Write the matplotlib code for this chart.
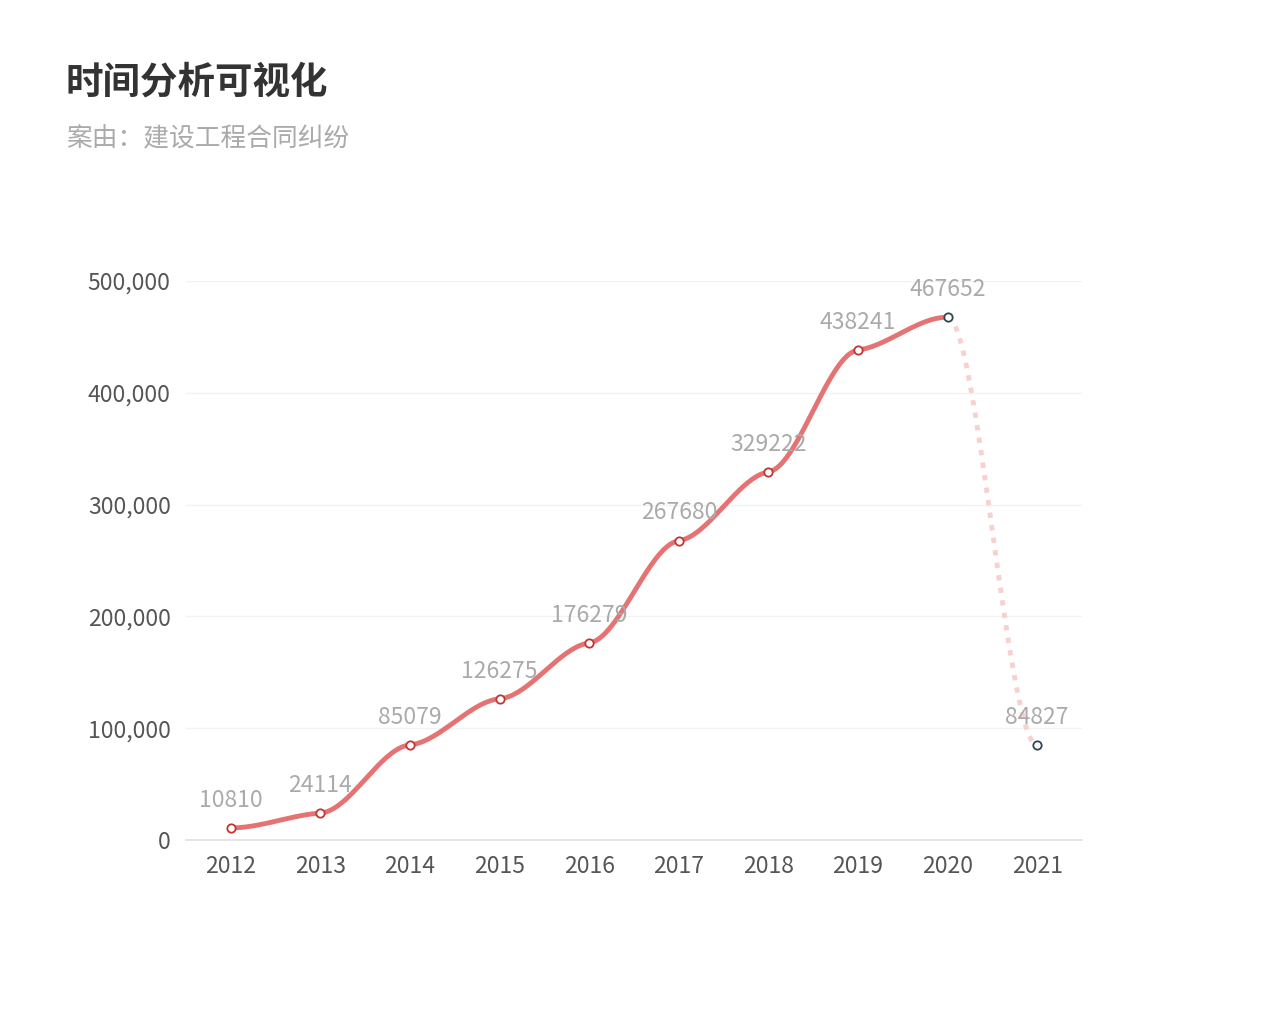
import numpy as np
import matplotlib
matplotlib.use("Agg")
import matplotlib.pyplot as plt

plt.rcParams['font.family'] = ['Noto Sans CJK SC', 'DejaVu Sans']

years = ['2012', '2013', '2014', '2015', '2016', '2017', '2018', '2019', '2020', '2021']
values = [10810, 24114, 85079, 126275, 176279, 267680, 329222, 438241, 467652, 84827]
yticks = [0, 100000, 200000, 300000, 400000, 500000]
title = '时间分析可视化'
subtitle = '案由：建设工程合同纠纷'

fig = plt.figure(figsize=(12.69, 10.27), dpi=100)
ax = fig.add_axes([186/1269, 1-840/1027, (1082-186)/1269, (840-281)/1027])

x = np.arange(len(values), dtype=float)
y = np.array(values, dtype=float)

def smooth(xs, ys, k=0.25, n=40):
    # cubic Hermite with softened tangents (ECharts-like smoothing)
    m = np.zeros_like(ys)
    for i in range(len(ys)):
        if 0 < i < len(ys) - 1:
            m[i] = (ys[i+1] - ys[i-1]) / (xs[i+1] - xs[i-1])
        else:
            m[i] = 0.0
    m *= k
    px, py = [], []
    for i in range(len(xs) - 1):
        t = np.linspace(0, 1, n)
        h = xs[i+1] - xs[i]
        h00 = 2*t**3 - 3*t**2 + 1
        h10 = t**3 - 2*t**2 + t
        h01 = -2*t**3 + 3*t**2
        h11 = t**3 - t**2
        px.extend(xs[i] + t*h)
        py.extend(h00*ys[i] + h10*h*m[i] + h01*ys[i+1] + h11*h*m[i+1])
    return np.array(px), np.array(py)

sx, sy = smooth(x[:9], y[:9], k=0.15)
ax.plot(sx, sy, color='#e57373', lw=3.5, solid_capstyle='round', zorder=3)

# dashed segment 2020 -> 2021
dx, dy = smooth(x[8:], y[8:], k=0.0)
ax.plot(dx, dy, color='#f8d0d0', lw=3.5, ls=(0, (1.1, 1.5)), zorder=2)

ax.plot(x[:8], y[:8], 'o', ms=6, mfc='white', mec='#c23531', mew=1.3, zorder=4)
ax.plot(x[8:], y[8:], 'o', ms=6, mfc='white', mec='#2f4554', mew=1.3, zorder=4)

for xi, yi in zip(x, y):
    ax.annotate(str(int(yi)), (xi, yi), xytext=(0, 20), textcoords='offset points',
                ha='center', va='center', fontsize=16.5, color='#aaaaaa', zorder=5)

ax.set_xlim(-0.5, len(values) - 0.5)
ax.set_ylim(0, 500000)
ax.set_xticks(x)
ax.set_xticklabels(years)
ax.set_yticks(yticks)
ax.set_yticklabels([f'{v:,}' for v in yticks])
ax.tick_params(axis='both', length=0, labelsize=16.5, colors='#555555')
ax.tick_params(axis='x', pad=10.5)
ax.tick_params(axis='y', pad=11)
ax.grid(axis='y', color='#f2f2f2', lw=1)
ax.set_axisbelow(True)
for s in ['top', 'right', 'left']:
    ax.spines[s].set_visible(False)
ax.spines['bottom'].set_color('#e0e0e0')
ax.spines['bottom'].set_linewidth(1.2)

fig.text(66/1269, 1-82/1027, title, fontsize=27, fontweight='bold', color='#333333', va='center', ha='left')
fig.text(66/1269, 1-138/1027, subtitle, fontsize=18.5, color='#aaaaaa', va='center', ha='left')

fig.savefig('out.png', dpi=100, facecolor='white')
